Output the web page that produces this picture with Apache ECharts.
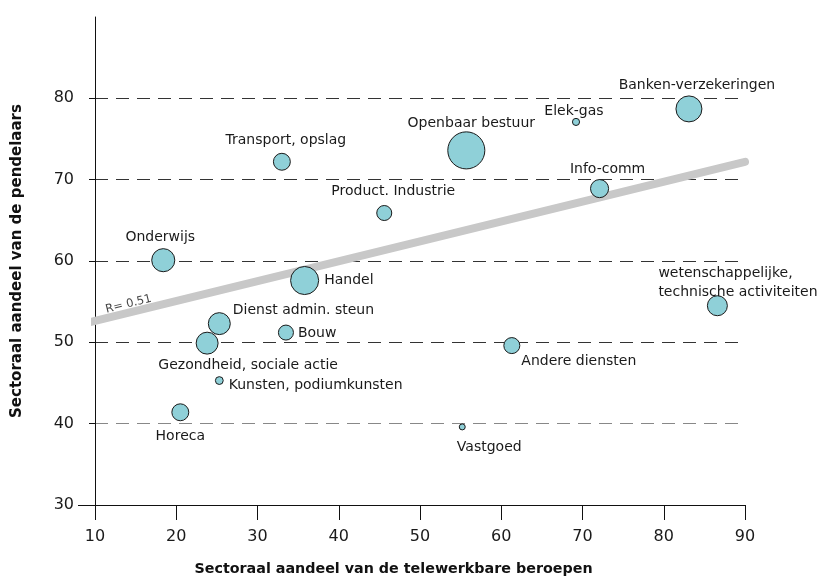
<!DOCTYPE html>
<html>
<head>
<meta charset="utf-8">
<script src="https://cdn.jsdelivr.net/npm/echarts@6/dist/echarts.min.js"></script>
<style>
  html, body { margin: 0; padding: 0; background: #ffffff; }
  #chart { width: 825px; height: 578px; }
</style>
</head>
<body>
<div id="chart"></div>
<script>
// ---- Data ----
const categories = [
  'Onderwijs', 'Transport, opslag', 'Openbaar bestuur', 'Elek-gas',
  'Banken-verzekeringen', 'Info-comm', 'Product. Industrie', 'Handel',
  'Dienst admin. steun', 'Bouw', 'Gezondheid, sociale actie',
  'Kunsten, podiumkunsten', 'Horeca', 'Vastgoed', 'Andere diensten',
  'wetenschappelijke,\ntechnische activiteiten'
];
const teleworkShare = [18.4, 33.0, 55.7, 69.2, 83.1, 72.1, 45.6, 35.8, 25.3, 33.5, 23.8, 25.3, 20.5, 55.2, 61.3, 86.6];
const commuterShare = [60.1, 72.2, 73.6, 77.1, 78.7, 68.9, 65.9, 57.6, 52.3, 51.2, 49.9, 45.3, 41.4, 39.6, 49.6, 54.5];
const bubbleWeight  = [52, 28, 134, 5, 66, 32, 22, 77, 47, 22, 47, 6, 28, 3.5, 25, 39];

const trendX = [9, 90];
const trendY = [52.4, 72.2];
const trendLabel = 'R= 0.51';

const xTicks = [10, 20, 30, 40, 50, 60, 70, 80, 90];
const yTicks = [30, 40, 50, 60, 70, 80];

const xTitle = 'Sectoraal aandeel van de telewerkbare beroepen';
const yTitle = 'Sectoraal aandeel van de pendelaars';

// ---- Label placement (styling only) ----
const labelPlacement = [
  { position: 'top', distance: 1, offset: [-3, 0] },
  { position: 'top', distance: 3, offset: [4, 0] },
  { position: 'top', distance: -1, offset: [5, 0] },
  { position: 'top', distance: -3, offset: [-2, 0] },
  { position: 'top', distance: 1, offset: [8, 0] },
  { position: 'top', distance: 0, offset: [8, 0] },
  { position: 'top', distance: 4, offset: [9, 0] },
  { position: 'right', distance: 5, offset: [0, 0] },
  { position: 'right', distance: 2, offset: [0, -13] },
  { position: 'right', distance: 4, offset: [0, 1] },
  { position: 'bottom', distance: 1, offset: [41, 0] },
  { position: 'right', distance: 5, offset: [0, 5] },
  { position: 'bottom', distance: 6, offset: [0, 0] },
  { position: 'bottom', distance: 7, offset: [27, 0] },
  { position: 'right', distance: 1, offset: [0, 16] },
  { position: 'top', distance: -7, offset: [-59, 0], align: 'left' }
];

const FONT = '"DejaVu Sans", sans-serif';

const bubbleData = categories.map((name, i) => ({
  name: name,
  value: [teleworkShare[i], commuterShare[i], bubbleWeight[i]],
  label: Object.assign({ show: true, formatter: name }, labelPlacement[i])
}));

const chart = echarts.init(document.getElementById('chart'), null, { renderer: 'canvas' });

chart.setOption({
  animation: false,
  backgroundColor: '#ffffff',
  grid: { left: 95, right: 80, top: 17, bottom: 73, containLabel: false, outerBoundsMode: 'none' },
  xAxis: {
    type: 'value', min: 10, max: 90, interval: 10,
    name: xTitle, nameLocation: 'middle', nameGap: 57,
    nameTextStyle: { fontFamily: FONT, fontSize: 14.3, fontWeight: 'bold', color: '#111', padding: [0, 53, 0, 0] },
    axisLine: { show: true, lineStyle: { color: '#111', width: 1 } },
    axisTick: { show: true, length: 15, lineStyle: { color: '#111' }, customValues: xTicks },
    axisLabel: { fontFamily: FONT, fontSize: 16, color: '#1a1a1a', margin: 24, customValues: xTicks },
    splitLine: { show: false }
  },
  yAxis: [{
    type: 'value', min: 30, max: 90, interval: 10,
    name: yTitle, nameLocation: 'middle', nameGap: 70, nameRotate: 90,
    nameTextStyle: { fontFamily: FONT, fontSize: 15, fontWeight: 'bold', color: '#111' },
    axisLine: { show: true, lineStyle: { color: '#111', width: 1 } },
    axisTick: { show: true, length: 6, lineStyle: { color: '#111' }, customValues: yTicks },
    axisLabel: { fontFamily: FONT, fontSize: 16, color: '#1a1a1a', margin: 21, customValues: yTicks },
    splitLine: {
      show: true, showMinLine: false, showMaxLine: true,
      lineStyle: { color: ['#888', '#333', '#333', '#333', '#333', '#333'], type: [13, 8], width: 1 }
    }
  }, {
    type: 'value', min: 30, max: 90, interval: 10, position: 'left',
    axisLine: { show: false },
    axisTick: { show: true, length: 17, lineStyle: { color: '#111' }, customValues: [yTicks[0]] },
    axisLabel: { show: false },
    splitLine: { show: false }
  }],
  series: [
    {
      type: 'line',
      data: trendX.map((x, i) => [x, trendY[i]]),
      symbol: 'none',
      clip: false,
      lineStyle: { color: '#c8c8c8', width: 8, cap: 'round' },
      z: 1, silent: true
    },
    {
      type: 'scatter',
      clip: false,
      data: [{
        value: [trendX[0], trendY[0]],
        label: {
          show: true, formatter: trendLabel, position: 'inside',
          rotate: 14, offset: [45, -8], fontSize: 11.5, color: '#111', fontFamily: FONT
        }
      }],
      symbolSize: 1,
      itemStyle: { color: 'rgba(0,0,0,0)' },
      z: 3, silent: true
    },
    {
      type: 'scatter',
      data: bubbleData,
      symbolSize: v => Math.sqrt(v[2]) * 3.2,
      itemStyle: { color: '#8fd0d8', borderColor: '#1a1a1a', borderWidth: 1, opacity: 1 },
      label: { fontFamily: FONT, fontSize: 14, color: '#1a1a1a', lineHeight: 19 },
      z: 2
    },
    {
      type: 'scatter', yAxisIndex: 1, data: [], silent: true
    }
  ]
});
</script>
</body>
</html>
